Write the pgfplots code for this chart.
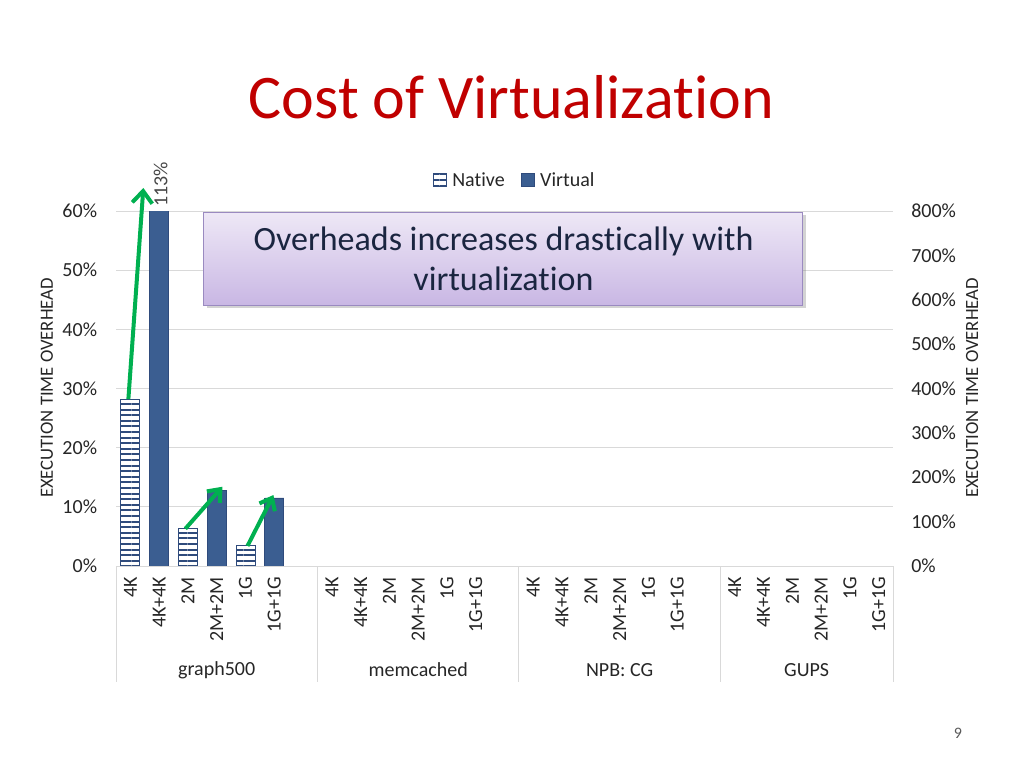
\documentclass[border=0pt]{standalone}
\usepackage{fontspec}
\setmainfont{Carlito}[Ligatures=NoCommon]
\usepackage{pgfplots}
\usepackage{pgfplotstable}
\pgfplotsset{compat=1.18}
\usetikzlibrary{patterns.meta,arrows.meta,shadows}

\definecolor{titlered}{HTML}{C00000}
\definecolor{virt}{HTML}{3B5E91}
\definecolor{nat}{HTML}{2F4B7C}
\definecolor{gridc}{HTML}{D9D9D9}
\definecolor{arrowg}{HTML}{00B050}
\definecolor{txt}{HTML}{262626}
\definecolor{boxtop}{HTML}{EEE8F6}
\definecolor{boxbot}{HTML}{C9B7E4}
\definecolor{boxline}{HTML}{9A8AC0}
\definecolor{boxtxt}{HTML}{1A2540}

% native / virtual overheads (%), x = slot index (gap slot after each group)
\pgfplotstableread{
x y
0 28.1
2 6.3
4 3.4
}\native
\pgfplotstableread{
x y
1 113
3 12.7
5 11.5
}\virtual

\newcommand{\lbl}{\fontsize{15}{18}\selectfont}

\begin{document}
\begin{tikzpicture}
\useasboundingbox (0,0) rectangle (768pt,-576pt);

\node[anchor=base, text=titlered, font=\fontsize{46.5}{50}\selectfont] at (383.6pt,-88.5pt) {Cost of Virtualization};

\begin{axis}[
    at={(87pt,-424.5pt)}, anchor=south west,
    scale only axis, width=582.75pt, height=266.25pt,
    xmin=-0.5, xmax=26.5, ymin=0, ymax=60,
    ybar, bar width=0.66,
    clip mode=individual,
    axis line style={draw=none},
    major tick length=0,
    ytick={0,10,...,60},
    yticklabel={\pgfmathprintnumber{\tick}\%},
    /pgf/number format/assume math mode=true,
    ymajorgrids, grid style={gridc, line width=0.75pt},
    yticklabel style={font=\lbl, text=txt, anchor=east, inner xsep=0pt, xshift=-14pt},
    xtick={0,1,2,3,4,5,7,8,9,10,11,12,14,15,16,17,18,19,21,22,23,24,25,26},
    xticklabels={4K,4K+4K,2M,2M+2M,1G,1G+1G,4K,4K+4K,2M,2M+2M,1G,1G+1G,4K,4K+4K,2M,2M+2M,1G,1G+1G,4K,4K+4K,2M,2M+2M,1G,1G+1G},
    xticklabel style={rotate=90, anchor=east, inner sep=0pt, font=\lbl, text=txt},
    xticklabel shift=8pt,
    legend style={at={(0.5135,1.087)}, anchor=center, draw=none, fill=none,
        legend columns=2, font=\lbl, text=txt,
        /tikz/every odd column/.append style={column sep=2pt},
        /tikz/every even column/.append style={column sep=10pt}},
    legend image code/.code={\draw[#1] (0pt,-5pt) rectangle (10pt,5pt);},
]
\addplot[bar shift=0pt, fill=white, draw=nat, line width=0.6pt,
    postaction={pattern={Lines[angle=0,distance=4.2pt,line width=1.6pt]}, pattern color=nat}]
    table[x=x,y=y] {\native};
\addlegendentry{Native}
\addplot[bar shift=0pt, fill=virt, draw=nat, line width=0.6pt]
    table[x=x,y=y] {\virtual};
\addlegendentry{Virtual}

% category group frame
\draw[gridc, line width=0.75pt] (axis cs:-0.5,0) -- (axis cs:26.5,0);
\draw[gridc, line width=0.75pt] (axis cs:-0.5,0) -- ++(0pt,-87pt);
\draw[gridc, line width=0.75pt] (axis cs:6.5,0) -- ++(0pt,-87pt);
\draw[gridc, line width=0.75pt] (axis cs:13.5,0) -- ++(0pt,-87pt);
\draw[gridc, line width=0.75pt] (axis cs:20.5,0) -- ++(0pt,-87pt);
\draw[gridc, line width=0.75pt] (axis cs:26.5,0) -- ++(0pt,-87pt);
\node[font=\lbl, text=txt, yshift=-78pt] at (axis cs:3,0) {graph500};
\node[font=\lbl, text=txt, yshift=-78pt] at (axis cs:10,0) {memcached};
\node[font=\lbl, text=txt, yshift=-78pt] at (axis cs:17,0) {NPB: CG};
\node[font=\lbl, text=txt, yshift=-78pt] at (axis cs:23.5,0) {GUPS};

% clipped bar value
\node[rotate=90, anchor=west, inner xsep=3pt, inner ysep=0pt, font=\lbl, text=txt!85] at (axis cs:1.05,60) {113\%};

% arrows
\draw[arrowg, line width=3pt, -{Straight Barb[length=9pt,width=15pt]}] (axis cs:-0.07,28.2) -- (axis cs:0.45,63.9);
\draw[arrowg, line width=3pt, -{Straight Barb[length=8pt,width=13pt]}] (axis cs:1.91,6.3) -- (axis cs:3.2,13.4);
\draw[arrowg, line width=3pt, -{Straight Barb[length=8pt,width=13pt]}] (axis cs:4.07,3.4) -- (axis cs:4.97,12.0);
\end{axis}

\begin{axis}[
    at={(87pt,-424.5pt)}, anchor=south west,
    scale only axis, width=582.75pt, height=266.25pt,
    xmin=-0.5, xmax=26.5, ymin=0, ymax=800,
    axis x line=none, axis y line*=right,
    axis line style={draw=none},
    major tick length=0,
    ytick={0,100,...,800},
    yticklabel={\pgfmathprintnumber{\tick}\%},
    /pgf/number format/assume math mode=true,
    yticklabel style={font=\lbl, text=txt, anchor=west, inner xsep=0pt, xshift=13.5pt},
]
\end{axis}

\node[rotate=90, font=\fontsize{14}{16}\selectfont, text=txt] at (35.25pt,-291pt) {EXECUTION TIME OVERHEAD};
\node[rotate=90, font=\fontsize{14}{16}\selectfont, text=txt] at (729pt,-291pt) {EXECUTION TIME OVERHEAD};

\node[draw=boxline, line width=0.75pt, top color=boxtop, bottom color=boxbot,
    drop shadow={shadow xshift=2pt, shadow yshift=-2pt, opacity=0.35},
    minimum width=449.25pt, minimum height=69.75pt, align=center,
    font=\fontsize{25.5}{30}\selectfont, text=boxtxt]
    at (377.6pt,-193.9pt) {Overheads increases drastically with\\virtualization};

\node[font=\fontsize{12}{14}\selectfont, text=black!65] at (718.5pt,-549.75pt) {9};
\end{tikzpicture}
\end{document}
